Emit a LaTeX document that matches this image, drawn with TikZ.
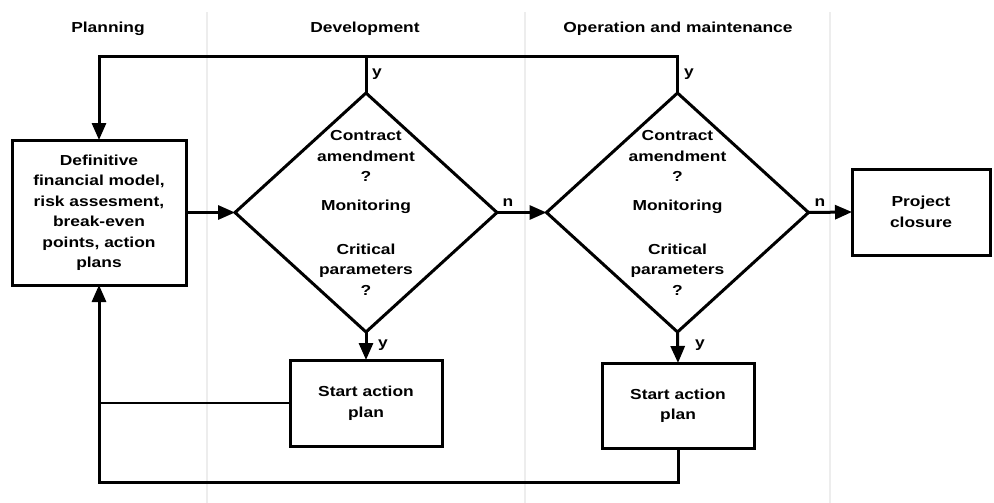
\documentclass[tikz,border=0pt]{standalone}
\usepackage{fontspec}
\setmainfont{Liberation Sans}[FakeStretch=1.2]
\usetikzlibrary{shapes.geometric,arrows.meta}
\begin{document}
\begin{tikzpicture}[x=1pt,y=-1pt,
  every node/.style={font=\bfseries\fontsize{14.5}{20.5}\selectfont},
  box/.style={draw,line width=3pt,align=center,inner sep=0pt,outer sep=0pt},
  dia/.style={draw,shape=diamond,line width=3pt,inner sep=0pt,outer sep=0pt,
              minimum width=262pt,minimum height=239pt},
  txt/.style={align=center,inner sep=0pt},
  conn/.style={line width=3pt},
  thinconn/.style={line width=1.8pt},
  arr/.style={conn,-{Triangle[length=17pt,width=14pt]}},
  sepline/.style={line width=1.5pt,black!7}]
\useasboundingbox (0,0) rectangle (994,503);

% phase separators
\draw[sepline] (207,12) -- (207,503);
\draw[sepline] (525,12) -- (525,503);
\draw[sepline] (830,12) -- (830,503);

% headers
\node (hPlan) at (108,29) {Planning};
\node (hDev) at (365,29) {Development};
\node (hOp) at (678,29) {Operation and maintenance};

% nodes
\node[box,minimum width=174pt,minimum height=145pt] (plan) at (99,212.5)
  {Definitive\\financial model,\\risk assesment,\\break-even\\points, action\\plans};
\node[dia] (d1) at (366,212.5) {};
\node[dia] (d2) at (677.5,212.5) {};
\node[box,minimum width=138pt,minimum height=86pt] (close) at (921,212) {Project\\closure};
\node[box,minimum width=152pt,minimum height=86pt] (sap1) at (366,403) {Start action\\plan};
\node[box,minimum width=152pt,minimum height=85pt] (sap2) at (678,405.5) {Start action\\plan};

% diamond texts
\node[txt] (d1a) at (366,156) {Contract\\amendment\\?};
\node[txt] (d1m) at (366,207) {Monitoring};
\node[txt] (d1c) at (366,269.5) {Critical\\parameters\\?};
\node[txt] (d2a) at (677.5,156) {Contract\\amendment\\?};
\node[txt] (d2m) at (677.5,207) {Monitoring};
\node[txt] (d2c) at (677.5,269.5) {Critical\\parameters\\?};

% connectors
\coordinate (top2) at (677.5,57);
\coordinate (top1) at (366,57);
\coordinate (bot) at (678,482);
\draw[arr] (d2.north) -- (top2) -| (plan.north);
\draw[conn] (d1.north) -- (top1);
\draw[arr] (plan.east) -- (d1.west);
\draw[arr] (d1.east) -- (d2.west);
\draw[arr] (d2.east) -- (close.west);
\draw[arr] (d1.south) -- (sap1.north);
\draw[arr] (d2.south) -- (sap2.north);
\draw[arr] (sap2.south) -- (bot) -| (plan.south);
\draw[thinconn] (sap1.west) -- (sap1.west -| plan.south);

% branch labels
\node (y1) at (377,74) {y};
\node (y2) at (689,74) {y};
\node (y3) at (383,345) {y};
\node (y4) at (700,345) {y};
\node (n1) at (508,203) {n};
\node (n2) at (820,203) {n};
\end{tikzpicture}
\end{document}
